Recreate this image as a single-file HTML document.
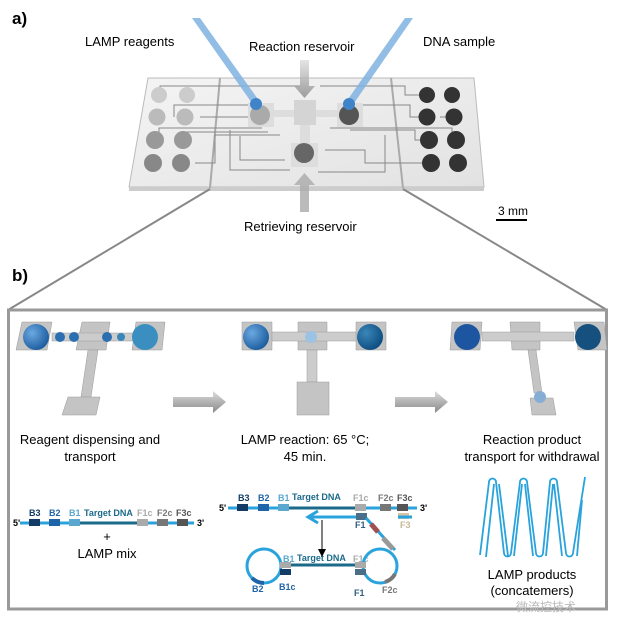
<!DOCTYPE html>
<html><head><meta charset="utf-8"><style>
html,body{margin:0;padding:0;background:#fff}
svg{display:block}
text{font-family:"Liberation Sans",Arial,sans-serif}
.s{font-family:"Liberation Serif",serif;font-weight:bold;font-size:9px}
</style></head><body>
<svg width="621" height="637" viewBox="0 0 621 637" xmlns="http://www.w3.org/2000/svg">
<defs>
<linearGradient id="chip" x1="0" y1="0" x2="1" y2="1"><stop offset="0" stop-color="#f4f4f4"/><stop offset="1" stop-color="#e2e2e2"/></linearGradient>
<linearGradient id="arr" x1="0" y1="0" x2="0" y2="1"><stop offset="0" stop-color="#ddd"/><stop offset="1" stop-color="#888"/></linearGradient>
<radialGradient id="bl" cx="0.35" cy="0.35" r="0.7"><stop offset="0" stop-color="#6aa8e0"/><stop offset="1" stop-color="#1c5c9e"/></radialGradient>
<radialGradient id="bd" cx="0.35" cy="0.35" r="0.7"><stop offset="0" stop-color="#3a86b8"/><stop offset="1" stop-color="#0d4c80"/></radialGradient>
</defs>
<text x="12" y="24" font-size="17" font-weight="bold">a)</text>
<text x="85" y="46" font-size="13">LAMP reagents</text>
<text x="249" y="51" font-size="13">Reaction reservoir</text>
<text x="423" y="46" font-size="13">DNA sample</text>
<!-- chip -->
<polygon points="148,78 474,78 484,187 129,187" fill="url(#chip)" stroke="#bbb"/>
<polygon points="129,187 484,187 484,191 129,191" fill="#ccc"/>
<line x1="220" y1="78" x2="210" y2="188" stroke="#aaa" stroke-width="2"/>
<line x1="391" y1="78" x2="403" y2="188" stroke="#aaa" stroke-width="2"/>
<g stroke="#888" stroke-width="1" fill="none">
<path d="M160,95 V86 H300 M174,117 V105 H255 M159,140 V128 H262 M187,140 V132 H268 M195,163 H215 V135 H280 M230,130 V170 H290 M240,136 V160 H285 M200,117 H250"/>
<path d="M427,95 H405 V86 H320 M427,117 H410 V105 H360 M427,140 H415 V130 H350 M452,140 V128 H330 M427,163 H365 V150 H325 M385,135 V172 H318 M452,117 H440"/>
</g>
<circle cx="159" cy="95" r="8" fill="#ccc"/><circle cx="187" cy="95" r="8" fill="#ccc"/>
<circle cx="157" cy="117" r="8.5" fill="#bbb"/><circle cx="185" cy="117" r="8.5" fill="#bbb"/>
<circle cx="155" cy="140" r="9" fill="#999"/><circle cx="183" cy="140" r="9" fill="#999"/>
<circle cx="153" cy="163" r="9" fill="#888"/><circle cx="181" cy="163" r="9" fill="#888"/>
<circle cx="427" cy="95" r="8" fill="#333"/><circle cx="452" cy="95" r="8" fill="#333"/>
<circle cx="427" cy="117" r="8.5" fill="#333"/><circle cx="454" cy="117" r="8.5" fill="#333"/>
<circle cx="429" cy="140" r="9" fill="#333"/><circle cx="456" cy="140" r="9" fill="#333"/>
<circle cx="431" cy="163" r="9" fill="#333"/><circle cx="458" cy="163" r="9" fill="#333"/>
<rect x="248" y="103" width="26" height="24" fill="#ddd"/><rect x="337" y="103" width="26" height="24" fill="#ddd"/>
<rect x="272" y="110" width="66" height="7" fill="#ddd"/><rect x="294" y="100" width="22" height="25" fill="#d4d4d4"/>
<rect x="300" y="125" width="10" height="20" fill="#ddd"/><rect x="291" y="143" width="27" height="24" fill="#ddd"/>
<circle cx="260" cy="115" r="10" fill="#aaa"/><circle cx="349" cy="115" r="10" fill="#555"/><circle cx="304" cy="153" r="10" fill="#666"/>
<polygon points="192,18 200,18 260,102 254,106" fill="#7fb2e0" opacity="0.85"/>
<circle cx="256" cy="104" r="6" fill="#3f84c8"/>
<polygon points="405,18 413,18 352,106 346,102" fill="#7fb2e0" opacity="0.85"/>
<circle cx="349" cy="104" r="6" fill="#3f84c8"/>
<polygon points="300,60 309,60 309,86 315,86 304.5,98 294,86 300,86" fill="url(#arr)" opacity="0.8"/>
<polygon points="300,212 309,212 309,185 315,185 304.5,173 294,185 300,185" fill="#aaa" opacity="0.8"/>
<text x="498" y="215" font-size="12">3 mm</text>
<rect x="496" y="219" width="31" height="2" fill="#000"/>
<text x="244" y="231" font-size="13">Retrieving reservoir</text>
<line x1="210" y1="189" x2="8" y2="310" stroke="#888" stroke-width="2"/>
<line x1="403" y1="189" x2="607" y2="310" stroke="#888" stroke-width="2"/>
<text x="12" y="281" font-size="17" font-weight="bold">b)</text>
<rect x="8.5" y="310" width="598" height="299" fill="none" stroke="#999" stroke-width="3"/>
<!-- panel 1 -->
<g fill="#c4c4c4" stroke="#999" stroke-width="0.5">
<polygon points="22,322 52,322 47,350 16,350"/><polygon points="82,322 110,322 106,350 76,350"/><polygon points="136,322 165,322 162,350 132,350"/>
<rect x="52" y="333" width="84" height="8" fill="#ccc"/>
<polygon points="88,350 98,350 91,397 81,397"/><polygon points="68,397 100,397 96,415 62,415"/>
<polygon points="242,322 272,322 272,350 242,350"/><polygon points="298,322 327,322 327,350 298,350"/><polygon points="356,322 386,322 386,350 356,350"/>
<rect x="272" y="332" width="84" height="9" fill="#ccc"/><rect x="307" y="350" width="10" height="32" fill="#ccc"/>
<rect x="297" y="382" width="32" height="33"/>
<polygon points="452,322 482,322 480,350 450,350"/><polygon points="510,322 540,322 540,350 512,350"/><polygon points="574,322 604,322 607,350 578,350"/>
<rect x="482" y="332" width="92" height="9" fill="#ccc"/><polygon points="528,350 536,350 542,393 534,393"/><polygon points="530,398 553,398 556,415 532,415"/>
</g>
<circle cx="36" cy="337" r="13" fill="url(#bl)"/><circle cx="60" cy="337" r="5" fill="#2c6fb0"/><circle cx="74" cy="337" r="5" fill="#2c6fb0"/><circle cx="107" cy="337" r="5" fill="#2c6fb0"/><circle cx="121" cy="337" r="4" fill="#3a86b8"/><circle cx="145" cy="337" r="13" fill="#3b8fc0"/>
<circle cx="256" cy="337" r="13" fill="url(#bl)"/><circle cx="311" cy="337" r="6" fill="#9cc2e4"/><circle cx="370" cy="337" r="13" fill="url(#bd)"/>
<circle cx="467" cy="337" r="13" fill="#1e55a0"/><circle cx="588" cy="337" r="13" fill="#16507e"/><circle cx="540" cy="397" r="6" fill="#86aed4"/>
<polygon points="173,397 213,397 213,391 226,402 213,413 213,407 173,407" fill="url(#arr)"/>
<polygon points="395,397 435,397 435,391 448,402 435,413 435,407 395,407" fill="url(#arr)"/>
<g font-size="13" text-anchor="middle">
<text x="90" y="444">Reagent dispensing and</text><text x="90" y="461">transport</text>
<text x="305" y="444">LAMP reaction: 65 °C;</text><text x="305" y="461">45 min.</text>
<text x="532" y="444">Reaction product</text><text x="532" y="461">transport for withdrawal</text>
<text x="107" y="541">+</text><text x="107" y="558">LAMP mix</text>
<text x="532" y="579">LAMP products</text><text x="532" y="595">(concatemers)</text>
</g>
<!-- DNA left -->
<line x1="20" y1="523" x2="194" y2="523" stroke="#2aa3dc" stroke-width="3"/>
<rect x="29" y="519" width="11" height="7" fill="#123c66"/><rect x="49" y="519" width="11" height="7" fill="#1f64a8"/><rect x="69" y="519" width="11" height="7" fill="#5aa8d0"/>
<line x1="80" y1="523" x2="137" y2="523" stroke="#1b6a8a" stroke-width="3"/>
<rect x="137" y="519" width="11" height="7" fill="#aaa"/><rect x="157" y="519" width="11" height="7" fill="#777"/><rect x="177" y="519" width="11" height="7" fill="#555"/>
<g class="s"><text x="13" y="526">5'</text><text x="29" y="516" fill="#123c66">B3</text><text x="49" y="516" fill="#1f64a8">B2</text><text x="69" y="516" fill="#5aa8d0">B1</text><text x="84" y="516" fill="#1b6a8a">Target DNA</text><text x="137" y="516" fill="#aaa">F1c</text><text x="157" y="516" fill="#777">F2c</text><text x="176" y="516" fill="#555">F3c</text><text x="197" y="526">3'</text></g>
<!-- DNA middle -->
<line x1="228" y1="508" x2="417" y2="508" stroke="#2aa3dc" stroke-width="3"/>
<rect x="237" y="504" width="11" height="7" fill="#123c66"/><rect x="258" y="504" width="11" height="7" fill="#1f64a8"/><rect x="278" y="504" width="11" height="7" fill="#5aa8d0"/>
<line x1="289" y1="508" x2="355" y2="508" stroke="#1b6a8a" stroke-width="3"/>
<rect x="355" y="504" width="11" height="7" fill="#aaa"/><rect x="380" y="504" width="11" height="7" fill="#777"/><rect x="397" y="504" width="11" height="7" fill="#555"/>
<g class="s"><text x="219" y="511">5'</text><text x="238" y="501" fill="#123c66">B3</text><text x="258" y="501" fill="#1f64a8">B2</text><text x="278" y="501" fill="#5aa8d0">B1</text><text x="292" y="500" fill="#1b6a8a">Target DNA</text><text x="353" y="501" fill="#aaa">F1c</text><text x="378" y="501" fill="#777">F2c</text><text x="397" y="501" fill="#555">F3c</text><text x="420" y="511">3'</text>
<text x="355" y="528" fill="#2f5f80">F1</text><text x="400" y="528" fill="#c8b898">F3</text><text x="354" y="596" fill="#2f5f80">F1</text><text x="279" y="590" fill="#1f64a8">B1c</text><text x="252" y="592" fill="#1f64a8">B2</text><text x="382" y="593" fill="#777">F2c</text><text x="283" y="562" fill="#5aa8d0">B1</text><text x="297" y="561" fill="#1b6a8a">Target DNA</text><text x="353" y="562" fill="#aaa">F1c</text></g>
<polyline points="363,517 310,517" stroke="#2aa3dc" stroke-width="3" fill="none"/>
<polyline points="318,511 308,517 318,523" stroke="#2aa3dc" stroke-width="3" fill="none"/>
<rect x="356" y="513" width="11" height="7" fill="#4a6e88"/><rect x="398" y="513" width="11" height="6" fill="#d4c4a4"/>
<line x1="412" y1="517" x2="398" y2="517" stroke="#2aa3dc" stroke-width="3"/>
<line x1="366" y1="518" x2="395" y2="550" stroke="#2aa3dc" stroke-width="3"/>
<line x1="371" y1="524" x2="378" y2="532" stroke="#a05050" stroke-width="5"/>
<line x1="383" y1="538" x2="393" y2="549" stroke="#999" stroke-width="5"/>
<line x1="322" y1="520" x2="322" y2="552" stroke="#000"/><polygon points="318,549 326,549 322,557"/>
<circle cx="264" cy="566" r="17" fill="none" stroke="#2aa3dc" stroke-width="3"/>
<circle cx="380" cy="566" r="17" fill="none" stroke="#2aa3dc" stroke-width="3"/>
<path d="M252,578 a17,17 0 0 0 12,5" stroke="#1f64a8" stroke-width="4" fill="none"/>
<path d="M385,582 a17,17 0 0 0 10,-8" stroke="#777" stroke-width="4" fill="none"/>
<rect x="282" y="563" width="72" height="8" fill="#fff"/>
<line x1="286" y1="565" x2="358" y2="565" stroke="#1b6a8a" stroke-width="3"/>
<rect x="280" y="562" width="11" height="6" fill="#aaa"/><rect x="280" y="569" width="11" height="6" fill="#123c66"/>
<rect x="355" y="562" width="11" height="6" fill="#aaa"/><rect x="355" y="569" width="11" height="6" fill="#4a6e88"/>
<!-- zigzag concatemers -->
<g fill="none" stroke="#2aa3dc" stroke-width="1.8">
<path d="M480,555 L489,482 a3.5,3.5 0 1 1 7,0 L504,553 a3.5,3.5 0 0 0 7,0 L520,482 a3.5,3.5 0 1 1 7,0 L536,553 a3.5,3.5 0 0 0 7,0 L550,482 a3.5,3.5 0 1 1 7,0 L566,553 a3.5,3.5 0 0 0 7,0 L585,477"/>
<path d="M486,557 L494,484 M499,484 L508,556 M514,556 L522,484 M525,484 L533,556 M546,556 L553,484 M554,484 L562,556 M577,556 L582,500"/>
</g>
<text x="576" y="611" font-size="12" fill="#bbb" text-anchor="end" font-family="Liberation Sans, Noto Sans CJK SC, sans-serif">微流控技术</text>
</svg>
</body></html>
